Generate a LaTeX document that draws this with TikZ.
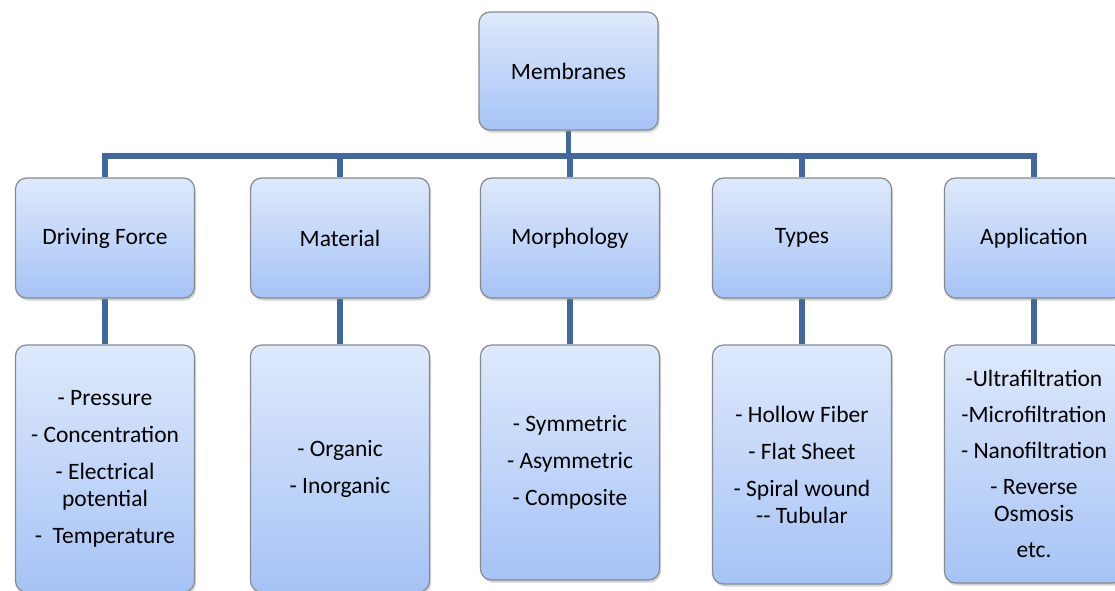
\documentclass[tikz,border=0pt]{standalone}
\usepackage{fontspec}
\setmainfont{Carlito}
\usetikzlibrary{calc,backgrounds,positioning,shadows}

\definecolor{boxtop}{HTML}{DEE9FB}
\definecolor{boxbot}{HTML}{A6C3F6}
\definecolor{boxline}{HTML}{868A90}
\definecolor{barblue}{HTML}{41689C}

\tikzset{
  mbox/.style={draw=boxline,line width=1.2pt,rounded corners=11pt,
    top color=boxtop,bottom color=boxbot,
    minimum width=179pt,align=center,inner sep=2pt,
    font=\fontsize{23.5}{27}\selectfont,
    drop shadow={opacity=0.35,shadow xshift=1.5pt,shadow yshift=-2.5pt}},
  bar/.style={draw=barblue,line width=5.5pt}
}

\begin{document}
\begin{tikzpicture}[x=1pt,y=-1pt]

\useasboundingbox (0,0) rectangle (1115,590);

\coordinate (T) at (568.5,71);
\coordinate (K) at (570,156);

\coordinate (A1) at (105,238);
\coordinate (A2) at (340,238);
\coordinate (A3) at (570,238);
\coordinate (A4) at (802,238);
\coordinate (A5) at (1034,238);

\coordinate (B1) at (105,468.5);
\coordinate (B2) at (340,468.5);
\coordinate (B3) at (570,462.5);
\coordinate (B4) at (802,464.5);
\coordinate (B5) at (1034,464);

\node at (T) [mbox,minimum height=118pt] (memb) {Membranes};

\node at (A1) [mbox,minimum height=120pt] (force) {Driving Force};
\node at (A2) [mbox,minimum height=120pt] (mat) {Material};
\node at (A3) [mbox,minimum height=120pt] (morph) {Morphology};
\node at (A4) [mbox,minimum height=120pt] (types) {Types};
\node at (A5) [mbox,minimum height=120pt] (appl) {Application};

\node at (B1) [mbox,minimum height=247pt] (forcelist)
  {- Pressure\\[10pt]- Concentration\\[10pt]- Electrical\\potential\\[10pt]-\ \ Temperature};
\node at (B2) [mbox,minimum height=247pt] (matlist)
  {- Organic\\[10pt]- Inorganic};
\node at (B3) [mbox,minimum height=235pt] (morphlist)
  {- Symmetric\\[10pt]- Asymmetric\\[10pt]- Composite};
\node at (B4) [mbox,minimum height=239pt] (typeslist)
  {- Hollow Fiber\\[10pt]- Flat Sheet\\[10pt]- Spiral wound\\{-}{-} Tubular};
\node at (B5) [mbox,minimum height=238pt] (appllist)
  {-Ultrafiltration\\[9pt]-Microfiltration\\[9pt]- Nanofiltration\\[9pt]- Reverse\\Osmosis\\[9pt]etc.};

% connectors behind the boxes
\begin{scope}[on background layer]
\draw [bar] (memb.south) -- (memb.south |- K);
\draw [bar] (force.north) -- (force.north |- K) -- (appl.north |- K) -- (appl.north);
\foreach \n in {mat,morph,types}
  \draw [bar] (\n.north) -- (\n.north |- K);
\draw [bar] (force.south) -- (forcelist.north);
\draw [bar] (mat.south) -- (matlist.north);
\draw [bar] (morph.south) -- (morphlist.north);
\draw [bar] (types.south) -- (typeslist.north);
\draw [bar] (appl.south) -- (appllist.north);
\end{scope}

\end{tikzpicture}
\end{document}
